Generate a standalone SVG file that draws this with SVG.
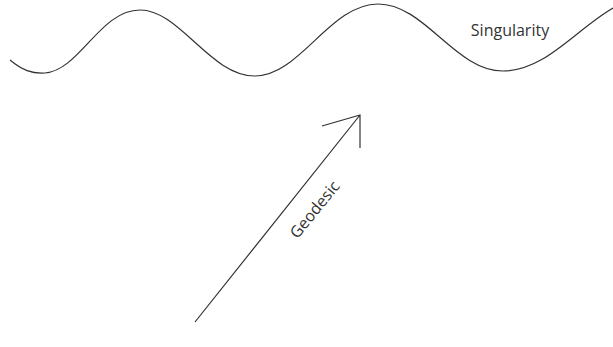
<svg xmlns="http://www.w3.org/2000/svg" width="613" height="347" viewBox="0 0 613 347">
<style>
.ln{fill:none;stroke:#333;stroke-width:1.2}
.t{font-family:"Open Sans",sans-serif;font-size:16px;fill:#333}
</style>
<rect width="613" height="347" fill="#fff"/>
<g id="singularity">
<path class="ln" d="M10,60 C22,70 32,74 45,73 C80,70 100,10 140,10 C180,10 210,76 255,76 C300,76 330,4 378,4 C425,4 455,71 503,71 C545,71 575,30 613,8"/>
<text class="t" x="510" y="36" text-anchor="middle">Singularity</text>
</g>
<g id="connectors">
<path class="ln" d="M195,322 L360,115 M322,126 L360,115 L360,148"/>
</g>
<g id="geodesic">
<text class="t" transform="translate(319,213) rotate(-51)" text-anchor="middle">Geodesic</text>
</g>
</svg>
